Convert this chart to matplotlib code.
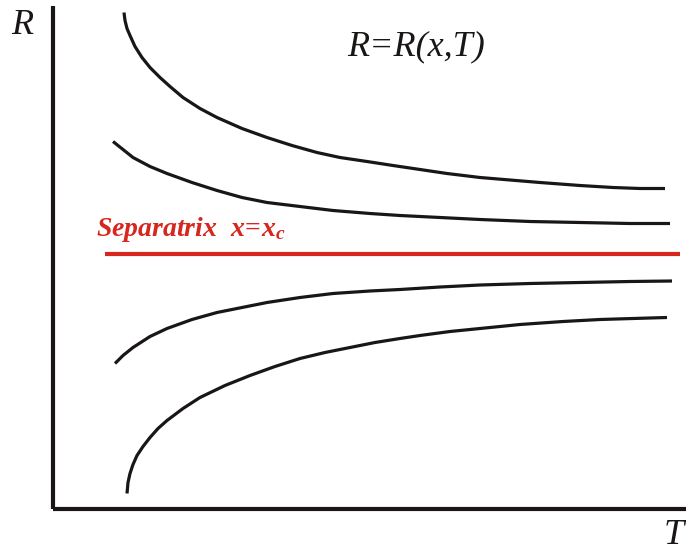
import matplotlib
matplotlib.use("Agg")
import matplotlib.pyplot as plt

# Curve data (T, R) in arbitrary schematic units
t1 = [71, 72, 74, 77, 82, 89, 97, 107, 117, 130, 147, 164, 189, 214, 239, 264, 287, 314, 340, 367, 394, 427, 487, 527, 560, 587, 612]
r1 = [496, 488, 480, 473, 462, 451, 441, 431, 422, 411, 400, 391, 380, 371, 363, 356, 351, 347, 343, 339, 335, 331, 326, 323, 321, 320, 320]

t2 = [60, 70, 80, 97, 114, 139, 164, 189, 214, 247, 280, 317, 347, 387, 427, 477, 527, 577, 617]
r2 = [367, 359, 351, 342, 335, 326, 318, 311, 306, 302, 298, 295, 293, 291, 289, 287, 286, 285, 285]

t3 = [62, 70, 80, 97, 114, 139, 164, 189, 214, 247, 280, 317, 347, 387, 427, 477, 527, 577, 619]
r3 = [145, 153, 161, 172, 180, 189, 196, 201, 206, 211, 215, 217.5, 219, 221.5, 223.5, 225, 226, 227, 227.5]

t4 = [74, 75, 77, 80, 84, 90, 97, 105, 114, 130, 147, 172, 197, 222, 247, 272, 297, 322, 347, 367, 397, 427, 467, 510, 547, 580, 614]
r4 = [15, 26, 35, 44, 53, 62, 71, 80, 88, 100, 111, 123, 133, 142, 150, 156, 161, 166, 170, 173, 177, 180, 184, 187, 189, 190, 191]

sep_t = [52, 627]
sep_r = [255, 255]

W, H = 686, 551
fig = plt.figure(figsize=(W / 100, H / 100), dpi=100)
fig.patch.set_facecolor("white")

x0, y0, x1, y1 = 53, 508.5, 686, 6
ax = fig.add_axes([x0 / W, 1 - y0 / H, (x1 - x0) / W, (y0 - y1) / H])
ax.set_xlim(0, x1 - x0)
ax.set_ylim(0, y0 - y1)
for s in ("top", "right"):
    ax.spines[s].set_visible(False)
for s in ("left", "bottom"):
    ax.spines[s].set_linewidth(3.0)
    ax.spines[s].set_color("#1a1616")
    ax.spines[s].set_capstyle("butt")
ax.set_xticks([])
ax.set_yticks([])

kw = dict(color="#1a1616", lw=2.3, solid_joinstyle="round", solid_capstyle="butt", clip_on=False)
for t, r in ((t1, r1), (t2, r2), (t3, r3), (t4, r4)):
    ax.plot(t, r, **kw)

ax.plot(sep_t, sep_r, color="#d7261e", lw=3.0, solid_capstyle="butt")

plt.rcParams["mathtext.fontset"] = "custom"
plt.rcParams["mathtext.it"] = "Liberation Serif:italic:bold"
plt.rcParams["mathtext.rm"] = "Liberation Serif:bold"

serif = "Liberation Serif"
fig.text(22 / W, 1 - 26 / H, "R", family=serif, style="italic", fontsize=26,
         ha="center", va="center", color="#1a1616")
fig.text(416 / W, 1 - 47 / H, "R=R(x,T)", family=serif, style="italic", fontsize=26,
         ha="center", va="center", color="#1a1616")
fig.text(674 / W, 1 - 535 / H, "T", family=serif, style="italic", fontsize=26,
         ha="center", va="center", color="#1a1616")
fig.text(96 / W, 1 - 236 / H, r"Separatrix  $x\!=\!x_c$", family=serif, style="italic",
         weight="bold", fontsize=20, ha="left", va="baseline", color="#d7261e")

fig.savefig("out.png", dpi=100, facecolor="white")
